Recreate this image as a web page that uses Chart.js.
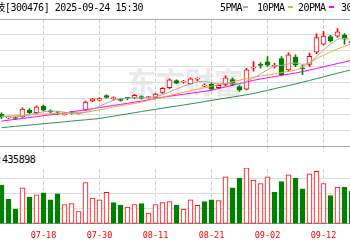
<!DOCTYPE html>
<html>
<head>
<meta charset="utf-8">
<script src="https://cdn.jsdelivr.net/npm/chart.js@4.4.1/dist/chart.umd.min.js"></script>
<style>
  html, body { margin: 0; padding: 0; background: #fff; }
  #wrap { position: relative; width: 350px; height: 250px; overflow: hidden; }
  #kline { position: absolute; left: 0; top: 0; }
  .txt { position: absolute; font-family: "DejaVu Sans Mono", "Noto Sans CJK SC", monospace; font-size: 10px;
         letter-spacing: -0.5px; line-height: 12px; white-space: nowrap; color: #000; }
  .dash { position: absolute; top: 6px; width: 5px; height: 2px; }
  #wm { position: absolute; left: 127px; top: 66px; font: bold 29px "Noto Sans CJK SC"; line-height: 30px; color: #e9e9e9; }
  #volband { position: absolute; left: 0; top: 152px; width: 350px; height: 16px; background: #fff; overflow: hidden; }
</style>
</head>
<body>
<div id="wrap">
  <div id="wm">东方财富</div>
  <canvas id="kline" width="350" height="250"></canvas>
  <div class="txt" style="left:-33px;top:2px">胜宏科技[300476] 2025-09-24 15:30</div>
  <div class="txt" style="left:220px;top:2px">5PMA</div><div class="dash" style="left:243px;background:#aaa"></div>
  <div class="txt" style="left:257px;top:2px">10PMA</div><div class="dash" style="left:288px;background:#f4a93a"></div>
  <div class="txt" style="left:298px;top:2px">20PMA</div><div class="dash" style="left:329px;background:#ff00ff"></div>
  <div class="txt" style="left:341px;top:2px">30PMA</div>
  <div id="volband"><div class="txt" style="left:-20px;top:2px">VOL:435898</div></div>
</div>
<script>
  // trading days visible in the crop (07-10 .. 09-18)
  var days = ["07-10","07-11","07-14","07-15","07-16","07-17","07-18","07-21","07-22","07-23",
              "07-24","07-25","07-28","07-29","07-30","07-31","08-01","08-04","08-05","08-06",
              "08-07","08-08","08-11","08-12","08-13","08-14","08-15","08-18","08-19","08-20",
              "08-21","08-22","08-25","08-26","08-27","08-28","08-29","09-01","09-02","09-03",
              "09-04","09-05","09-08","09-09","09-10","09-11","09-12","09-15","09-16","09-17","09-18"];
  var tickDays = ["07-18","07-30","08-11","08-21","09-02","09-12"];
  var prevClose = 127;

  var open  = [126.6,119.4,120,121.4,135.4,130,143.4,134,130,126,130.4,129,135.4,154.6,156,165.4,159,158,160.8,160.6,
               163.4,161.4,161.4,172,182,196.6,193.4,190,199.6,185,188.6,182,188.6,198.6,184,178.6,222.4,230,235.4,226,
               242,218.6,245.4,223,230,255.4,272,287.4,288.6,290.6,275];
  var high  = [130,123,122,140,138,144,146,136,133,130,133,131,154,160,161,167,163,160,162,168,
               165,164,170,182,200,198,197,202,202,190,192,188,206.6,202,186,222,236,234,246,232,
               246,254,250,228.6,253.4,293.4,298.6,290,304,294,280];
  var low   = [118,117,116,120,128,128,134,130,126,125,127,127,134,153,154,160,156,154,156.6,159,
               158,160,160,170,180,190,191,189,196,184,177,180,186,186,174,177,216,222,226,222,
               206,216,225.4,208.6,226,252,270,276,286,272,272];
  var close = [120.6,120.2,118,137.4,130,142,135.4,131.4,127.4,128,129.4,130.2,152,158.6,159.4,161.4,160,155.4,160,166,
               159.4,162.6,168.6,180.6,198,191.4,194.6,200,200.6,186,178.6,186.6,202,188.6,176.6,218.6,223.4,228,228.6,227,
               208.6,250,228.6,221,246.6,285.4,288.6,278.6,297.4,282,278];
  var volume = [635000,402000,243000,592000,440000,476000,508000,392000,492000,317000,333000,202000,678000,424000,392000,519000,349000,
                306000,275000,317000,333000,175000,317000,349000,365000,306000,243000,392000,302000,365000,392000,381000,773000,
                592000,751000,921000,719000,662000,773000,519000,694000,805000,751000,576000,821000,862000,662000,465000,603000,
                598000,535000];
  var ma5  = [123,122,121.4,123,125.4,129,132,133.6,133,131,129,128,131,137,143,150,156,159,160,161,
              161,161.4,163,167,173,179,185,190,194,195,192,189.4,191,191,189,195,202,210,219,227,
              228,231,233,230,232,246,260,272,282,284,282];
  var ma10 = [122.2,123,124,124.8,125.6,126.4,127.2,128,128.6,129,129.4,129.8,130.4,133.2,136,138.8,141.6,144.4,146.8,149,
              152,155.4,158.8,162.2,165.6,168.6,172.6,175.6,178.6,181.6,184.6,187.8,190.8,194,197.4,200.2,203.4,206,208,210.6,
              213,215.6,218,224.4,233.6,242,249,256,262,267.6,272.8];
  var ma20 = [112.6,114.4,116.2,118.2,120,121.8,123.8,125.6,127.4,129.6,131.8,134,136.2,138.4,140.6,142.8,145,147.2,149.4,151.8,
              154,156.8,159.2,161.8,164.2,166.2,168.2,170.2,172.2,174.2,176.4,180,183.4,186.8,190.2,193.6,197,199.8,202.2,204.8,
              207.2,209.8,212.2,215,218.4,221.6,225,228.4,231.8,235.2,238.4];
  var ma30 = [99,100.4,101.8,103,104.4,105.8,107.2,108.4,109.8,111.2,112.6,114,115.2,116.6,118,120.4,122.8,125.2,127.6,130,
              132.4,134.8,137,139.4,141.8,143.6,146,148.2,150.6,153,155.4,157.8,160.2,162.4,164.8,167.2,169.6,173.2,176.4,179.8,
              183,186.2,189.6,193,196.8,200.6,204.2,208,211.8,215.4,219.2];

  var RED = "#ff0000", GREEN = "#008000";

  function line(arr, color) {
    return {
      type: "line", yAxisID: "y", order: 0,
      data: arr.map(function(v, i) { return { x: i + 1, y: v }; }),
      borderColor: color, borderWidth: 1, pointRadius: 0, tension: 0
    };
  }

  var candleUp = close.map(function(c, i) { return c >= open[i]; });
  var volUp = close.map(function(c, i) { return c >= (i ? close[i - 1] : prevClose); });

  var datasets = [
    line(ma5, "#aaaaaa"),
    line(ma10, "#f4a93a"),
    line(ma20, "#ff00ff"),
    line(ma30, "#2f8f4f"),
    {
      type: "bar", yAxisID: "y", order: 1, grouped: false,
      data: open.map(function(o, i) { return { x: i + 1, y: [Math.min(o, close[i]), Math.max(o, close[i])] }; }),
      backgroundColor: candleUp.map(function(u) { return u ? "#fff" : GREEN; }),
      borderColor: candleUp.map(function(u) { return u ? RED : GREEN; }),
      borderWidth: 1, borderSkipped: false, barThickness: 5, minBarLength: 1
    },
    {
      type: "bar", yAxisID: "y", order: 2, grouped: false,
      data: low.map(function(l, i) { return { x: i + 1, y: [l, high[i]] }; }),
      backgroundColor: candleUp.map(function(u) { return u ? RED : GREEN; }),
      borderWidth: 0, barThickness: 1
    },
    {
      type: "bar", yAxisID: "yv", order: 1, grouped: false,
      data: volume.map(function(v, i) { return { x: i + 1, y: v }; }),
      backgroundColor: volUp.map(function(u) { return u ? "#fff" : GREEN; }),
      borderColor: volUp.map(function(u) { return u ? RED : GREEN; }),
      borderWidth: 1, borderSkipped: false, barThickness: 5
    }
  ];

  var hidden = { display: false };

  new Chart(document.getElementById("kline"), {
    data: { datasets: datasets },
    options: {
      responsive: false, animation: false,
      layout: { padding: { top: 19, left: 0, right: 0, bottom: 2 } },
      plugins: { legend: hidden, tooltip: { enabled: false } },
      scales: {
        x: {
          type: "linear", min: 1 - 1.5 / 7, max: 51 - 1.5 / 7, offset: false,
          afterBuildTicks: function(scale) {
            scale.ticks = tickDays.map(function(d) { return { value: days.indexOf(d) + 1 }; });
          },
          ticks: {
            autoSkip: false, maxRotation: 0, padding: 7, color: RED,
            font: { family: "DejaVu Sans Mono", size: 8.5 },
            callback: function(v) { return days[v - 1]; }
          },
          grid: { color: "#d2d2d2", drawTicks: false, offset: false },
          border: { display: true, color: "#999", dash: [4, 2] }
        },
        yv: {
          position: "left", stack: "k", stackWeight: 63, min: 0, max: 1000000,
          ticks: { display: false, stepSize: 250000 },
          grid: { drawTicks: false, color: function(c) { return c.tick.value === 1000000 ? "#bbb" : "#ddd"; } },
          border: { display: false }
        },
        yg: {
          position: "left", stack: "k", stackWeight: 17, min: 0, max: 1,
          ticks: { display: false }, grid: { display: false, drawTicks: false }, border: { display: false }
        },
        y: {
          position: "left", stack: "k", stackWeight: 132, min: 60, max: 324,
          ticks: { display: false, stepSize: 33 },
          grid: { drawTicks: false, color: function(c) { return c.tick.value === 324 || c.tick.value === 60 ? "#aaa" : "#ddd"; } },
          border: { display: false }
        }
      }
    }
  });
</script>
</body>
</html>
